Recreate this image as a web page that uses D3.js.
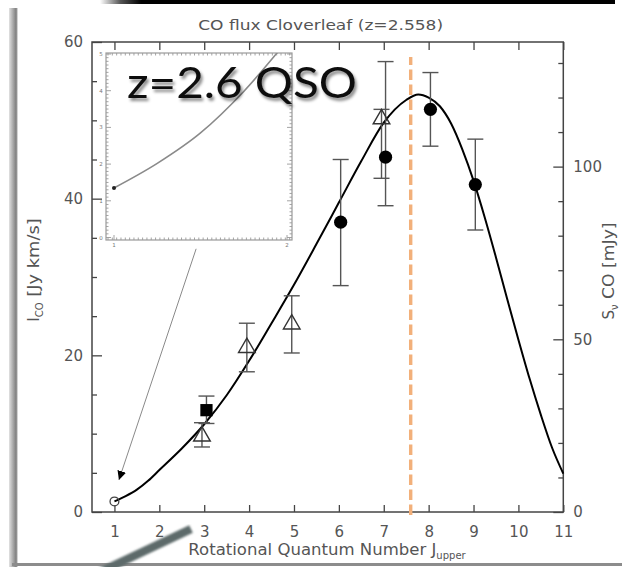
<!DOCTYPE html>
<html><head><meta charset="utf-8">
<script src="https://cdn.jsdelivr.net/npm/d3@7"></script>
<style>body{margin:0;background:#fff}svg{display:block}</style>
</head><body>
<svg id="chart" width="622" height="567"></svg>
<script>
// ---------- data ----------
const jTicks = [1,2,3,4,5,6,7,8,9,10,11];
const leftTicks = [0,20,40,60];
const rightTicks = [0,50,100];
const insetYTicks = [0,1,2,3,4,5];
const insetXTicks = [1,2];

const modelJ = [1,1.25,1.5,1.75,2,2.5,3,3.5,4,4.5,5,5.5,6,6.5,7,7.5,7.77,8,8.25,8.5,8.75,9,9.25,9.5,9.75,10,10.25,10.5,10.75,11];
const modelI = [1.35,2.02,2.85,3.98,5.35,8.1,11.2,14.9,19.3,24.1,29.0,34.2,39.5,44.8,49.7,52.6,53.3,52.9,51.8,49.6,46.3,42.3,37.6,32.5,27.2,22.0,17.0,12.4,8.2,4.9];

const circleJ = [6,7,8,9];
const circleI = [37.0,45.3,51.4,41.8];
const circleLo = [28.9,39.1,46.7,36.0];
const circleHi = [45.0,57.5,56.1,47.6];

const triJ = [3,4,5,7];
const triI = [9.8,21.1,24.1,50.3];
const triLo = [8.3,17.9,20.3,42.6];
const triHi = [11.4,24.1,27.6,51.4];

const squareJ = [3];
const squareI = [13.0];
const squareLo = [11.3];
const squareHi = [14.8];

const openJ = [1];
const openI = [1.35];

const peakJ = 7.6;
const mJyPerUnit = 2.268;   // S_nu [mJy] per I_CO [Jy km/s]

const title = "CO flux Cloverleaf (z=2.558)";
const badge = "z=2.6 QSO";

// ---------- layout ----------
const svg = d3.select("#chart");
const L = 92, R = 563.3, T = 42, B = 512;
const x = d3.scaleLinear().domain([0.5, 11]).range([L, R]);
const y = d3.scaleLinear().domain([0, 60]).range([B, T]);
const yR = d3.scaleLinear().domain([0, 60*mJyPerUnit]).range([B, T]);
const FONT = "DejaVu Sans, Liberation Sans, sans-serif";
const GREY = "#555";

const defs = svg.append("defs");
const lg = defs.append("linearGradient").attr("id","lbar");
[["0%","#e2e2e2"],["45%","#a9a9a9"],["80%","#7d7d7d"],["100%","#f4f4f4"]].forEach(s=>lg.append("stop").attr("offset",s[0]).attr("stop-color",s[1]));
const tg = defs.append("linearGradient").attr("id","tbar");
[["0%","#ffffff"],["4%","#555"],["8%","#000"],["100%","#000"]].forEach(s=>tg.append("stop").attr("offset",s[0]).attr("stop-color",s[1]));
const sh = defs.append("filter").attr("id","shadow").attr("x","-10%").attr("y","-20%").attr("width","130%").attr("height","160%");
sh.append("feDropShadow").attr("dx",2).attr("dy",3).attr("stdDeviation",1.8).attr("flood-color","#000").attr("flood-opacity",0.45);
const bl = defs.append("filter").attr("id","blur1");
bl.append("feGaussianBlur").attr("stdDeviation",0.8);
defs.append("marker").attr("id","arrowhead").attr("viewBox","0 0 10 10").attr("refX",10).attr("refY",5)
  .attr("markerWidth",9).attr("markerHeight",9).attr("markerUnits","userSpaceOnUse").attr("orient","auto")
  .append("path").attr("d","M0,0 L10,5 L0,10 Z").attr("fill","#000");

// ---------- slide decorations ----------
svg.append("rect").attr("x",100).attr("y",0).attr("width",515).attr("height",4).attr("fill","url(#tbar)");
svg.append("rect").attr("x",9).attr("y",8).attr("width",9).attr("height",559).attr("fill","url(#lbar)");
svg.append("rect").attr("x",12).attr("y",563).attr("width",610).attr("height",3).attr("fill","#8c8c8c");

// ---------- title ----------
svg.append("text").attr("x",(L+R)/2 - 7).attr("y",30).attr("text-anchor","middle")
  .attr("font-family",FONT).attr("font-size",14).attr("fill",GREY)
  .attr("textLength",245).attr("lengthAdjust","spacingAndGlyphs").text(title);

// ---------- axes ----------
function styleAxis(g){
  g.select(".domain").remove();
  g.selectAll(".tick line").attr("stroke","#444").attr("stroke-width",1.3);
  g.selectAll(".tick text").attr("font-family",FONT).attr("font-size",15).attr("fill",GREY);
}
// left
svg.append("g").attr("transform",`translate(${L},0)`)
  .call(d3.axisLeft(y).tickValues(d3.range(0,61,5).filter(v=>v%20!==0)).tickSize(-5).tickFormat(""))
  .call(styleAxis);
svg.append("g").attr("transform",`translate(${L},0)`)
  .call(d3.axisLeft(y).tickValues(leftTicks).tickSize(-10).tickPadding(9))
  .call(styleAxis);
// right
svg.append("g").attr("transform",`translate(${R},0)`)
  .call(d3.axisRight(yR).tickValues(d3.range(10,136,10).filter(v=>v%50!==0)).tickSize(-5).tickFormat(""))
  .call(styleAxis);
svg.append("g").attr("transform",`translate(${R},0)`)
  .call(d3.axisRight(yR).tickValues(rightTicks).tickSize(-10).tickPadding(10))
  .call(styleAxis);
// bottom
svg.append("g").attr("transform",`translate(0,${B})`)
  .call(d3.axisBottom(x).tickValues(jTicks).tickSize(-7).tickPadding(14).tickFormat(d3.format("d")))
  .call(styleAxis);
// top
svg.append("g").attr("transform",`translate(0,${T})`)
  .call(d3.axisTop(x).tickValues(jTicks).tickSize(-8).tickFormat(""))
  .call(styleAxis);
// frame
svg.append("rect").attr("x",L).attr("y",T).attr("width",R-L).attr("height",B-T)
  .attr("fill","none").attr("stroke","#444").attr("stroke-width",1.5);

// axis labels
const yl = svg.append("text").attr("transform",`translate(39,${270}) rotate(-90)`).attr("text-anchor","middle")
  .attr("font-family",FONT).attr("font-size",15).attr("fill",GREY);
yl.append("tspan").text("I");
yl.append("tspan").attr("font-size",10).attr("dy",4).text("CO");
yl.append("tspan").attr("dy",-4).attr("textLength",84).attr("lengthAdjust","spacingAndGlyphs").text(" [Jy km/s]");

const yr = svg.append("text").attr("transform",`translate(614,${271}) rotate(-90)`).attr("text-anchor","middle")
  .attr("font-family",FONT).attr("font-size",15).attr("fill",GREY);
yr.append("tspan").text("S");
yr.append("tspan").attr("font-size",10).attr("dy",4).text("ν");
yr.append("tspan").attr("dy",-4).attr("textLength",82).attr("lengthAdjust","spacingAndGlyphs").text(" CO [mJy]");

const xl = svg.append("text").attr("x",327).attr("y",555).attr("text-anchor","middle")
  .attr("font-family",FONT).attr("font-size",15).attr("fill",GREY);
xl.append("tspan").attr("textLength",248).attr("lengthAdjust","spacingAndGlyphs").text("Rotational Quantum Number J");
xl.append("tspan").attr("font-size",10).attr("dy",4).text("upper");

// ---------- peak marker ----------
svg.append("line").attr("x1",x(peakJ)).attr("x2",x(peakJ)).attr("y1",y(0)+3).attr("y2",y(58.1))
  .attr("stroke","#f2b07a").attr("stroke-width",3.4).attr("stroke-dasharray","10.5,4.5");

// ---------- model curve ----------
const model = modelJ.map((j,i)=>({j, v:modelI[i]}));
const line = d3.line().x(d=>x(d.j)).y(d=>y(d.v)).curve(d3.curveMonotoneX);
svg.append("path").datum(model).attr("d",line).attr("fill","none").attr("stroke","#000").attr("stroke-width",2);

// ---------- error bars ----------
function errBars(J, lo, hi, dx){
  const g = svg.append("g").attr("stroke","#555").attr("stroke-width",1.4).attr("fill","none");
  J.forEach((j,i)=>{
    const cx = x(j+dx);
    g.append("line").attr("x1",cx).attr("x2",cx).attr("y1",y(lo[i])).attr("y2",y(hi[i]));
    g.append("line").attr("x1",cx-8).attr("x2",cx+8).attr("y1",y(lo[i])).attr("y2",y(lo[i]));
    g.append("line").attr("x1",cx-8).attr("x2",cx+8).attr("y1",y(hi[i])).attr("y2",y(hi[i]));
  });
}
errBars(triJ, triLo, triHi, -0.05);
errBars(squareJ, squareLo, squareHi, 0.05);
errBars(circleJ, circleLo, circleHi, 0.04);

// ---------- markers ----------
svg.append("g").selectAll("path").data(triJ).join("path")
  .attr("transform",(j,i)=>`translate(${x(j-0.05)},${y(triI[i])+1})`)
  .attr("d",d3.symbol(d3.symbolTriangle,120)).attr("fill","none").attr("stroke","#333").attr("stroke-width",1.4);
svg.append("g").selectAll("path").data(squareJ).join("path")
  .attr("transform",(j,i)=>`translate(${x(j+0.05)},${y(squareI[i])})`)
  .attr("d",d3.symbol(d3.symbolSquare,150)).attr("fill","#000");
svg.append("g").selectAll("circle").data(circleJ).join("circle")
  .attr("cx",j=>x(j+0.04)).attr("cy",(j,i)=>y(circleI[i])).attr("r",6.6).attr("fill","#000");
svg.append("g").selectAll("circle").data(openJ).join("circle")
  .attr("cx",j=>x(j)).attr("cy",(j,i)=>y(openI[i])).attr("r",4.4).attr("fill","none").attr("stroke","#444").attr("stroke-width",1.3);

// ---------- inset ----------
const iL = 106, iR = 292, iT = 53, iB = 240;
const ix = d3.scaleLinear().domain([1,2]).range([114,287]);
const iy = d3.scaleLinear().domain([0,5]).range([237.5,54]);
defs.append("clipPath").attr("id","insetClip").append("rect").attr("x",iL).attr("y",iT).attr("width",iR-iL).attr("height",iB-iT);
const ig = svg.append("g");
ig.append("rect").attr("x",iL).attr("y",iT).attr("width",iR-iL).attr("height",iB-iT).attr("fill","none").attr("stroke","#9a9a9a").attr("stroke-width",1.2);
const minorY = d3.range(0,5.01,0.1);
const minorX = d3.range(ix.invert(iL+2),ix.invert(iR-1),0.025);
const tk = ig.append("g").attr("stroke","#9a9a9a").attr("stroke-width",0.9);
minorY.forEach(v=>{
  const len = Math.abs(v-Math.round(v))<1e-6 ? 5 : 2.5;
  tk.append("line").attr("x1",iL).attr("x2",iL+len).attr("y1",iy(v)).attr("y2",iy(v));
  tk.append("line").attr("x1",iR).attr("x2",iR-len).attr("y1",iy(v)).attr("y2",iy(v));
});
minorX.forEach(v=>{
  tk.append("line").attr("x1",ix(v)).attr("x2",ix(v)).attr("y1",iB).attr("y2",iB-2.5);
  tk.append("line").attr("x1",ix(v)).attr("x2",ix(v)).attr("y1",iT).attr("y2",iT+2.5);
});
insetXTicks.forEach(v=>tk.append("line").attr("x1",ix(v)).attr("x2",ix(v)).attr("y1",iB).attr("y2",iB-5));
ig.selectAll("text.iy").data(insetYTicks).join("text").attr("class","iy")
  .attr("x",iL-5).attr("y",d=>iy(d)+2).attr("text-anchor","middle")
  .attr("font-family",FONT).attr("font-size",5.5).attr("fill","#777").text(d=>d);
ig.selectAll("text.ix").data(insetXTicks).join("text").attr("class","ix")
  .attr("x",d=>ix(d)).attr("y",iB+7).attr("text-anchor","middle")
  .attr("font-family",FONT).attr("font-size",5.5).attr("fill","#777").text(d=>d);
const iline = d3.line().x(d=>ix(d.j)).y(d=>iy(d.v)).curve(d3.curveMonotoneX);
ig.append("path").datum(model.filter(d=>d.j<=2.5)).attr("d",iline).attr("clip-path","url(#insetClip)")
  .attr("fill","none").attr("stroke","#8a8a8a").attr("stroke-width",1.6);
ig.selectAll("circle").data(openJ).join("circle").attr("cx",j=>ix(j)).attr("cy",(j,i)=>iy(openI[i])).attr("r",2).attr("fill","#222");

// arrow from inset to J=1 point
svg.append("line").attr("x1",x(2.82)).attr("y1",y(33.6)).attr("x2",x(1.1)).attr("y2",y(4.1))
  .attr("stroke","#8a8a8a").attr("stroke-width",1).attr("marker-end","url(#arrowhead)");

// ---------- badge ----------
svg.append("text").attr("x",127).attr("y",98).attr("font-family","Lato, 'Open Sans', sans-serif")
  .attr("font-size",42).attr("fill","#111").attr("filter","url(#shadow)")
  .attr("textLength",230).attr("lengthAdjust","spacingAndGlyphs").text(badge);

// diagonal pointer bar
svg.append("line").attr("x1",191).attr("y1",529).attr("x2",100).attr("y2",572)
  .attr("stroke","#5d6b6b").attr("stroke-width",8.5).attr("filter","url(#blur1)");
</script>
</body></html>
